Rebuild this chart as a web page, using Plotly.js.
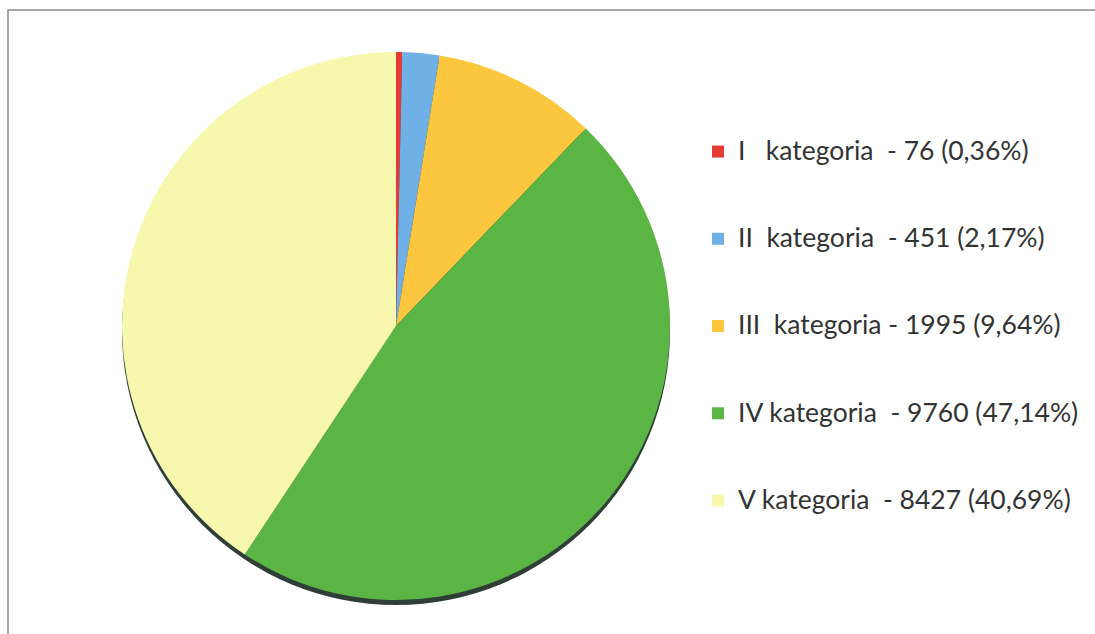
<!DOCTYPE html>
<html>
<head>
<meta charset="utf-8">
<script src="https://cdn.plot.ly/plotly-3.0.1.min.js"></script>
<style>html,body{margin:0;padding:0;background:#fff;}#chart{width:1095px;height:634px;}</style>
</head>
<body>
<div id="chart"></div>
<script>
// Data
const categories = ["I\u00a0\u00a0\u00a0kategoria\u00a0", "II\u00a0\u00a0kategoria\u00a0", "III\u00a0\u00a0kategoria", "IV kategoria\u00a0", "V kategoria\u00a0"];
const counts = [76, 451, 1995, 9760, 8427];
const percentLabels = ["0,36%", "2,17%", "9,64%", "47,14%", "40,69%"];
const sliceColors = ["#e53a35", "#6fb1e6", "#fcc73e", "#5ab544", "#f7f7ad"];

const total = counts.reduce((a, b) => a + b, 0);
const legendLabels = categories.map((c, i) =>
  "<span style='font-size:26.5px'>" + c + " - " + counts[i] + " (" + percentLabels[i] + ")</span><br> <br> ");

const W = 1095, H = 634;
const cx = 396, cy = 326, r = 274, shadowOffset = 5;
const dom = {
  x: [(cx - r) / W, (cx + r) / W],
  y: [(H - cy - r) / H, (H - cy + r) / H]
};

const shadow = {
  type: "pie",
  values: [total],
  labels: ["shadow"],
  marker: { colors: ["#2f3f37"], line: { width: 0 } },
  textinfo: "none",
  hoverinfo: "skip",
  showlegend: false,
  sort: false,
  domain: { x: dom.x, y: [dom.y[0] - shadowOffset / H, dom.y[1] - shadowOffset / H] }
};

const pie = {
  type: "pie",
  values: counts,
  labels: legendLabels,
  marker: { colors: sliceColors, line: { width: 0 } },
  textinfo: "none",
  hoverinfo: "label+value",
  sort: false,
  direction: "clockwise",
  rotation: 0,
  domain: dom
};

const layout = {
  width: W,
  height: H,
  margin: { l: 0, r: 0, t: 0, b: 0, autoexpand: false },
  paper_bgcolor: "#ffffff",
  font: { family: "Lato, 'Open Sans', sans-serif", color: "#333333" },
  showlegend: true,
  legend: {
    x: 698 / W, xanchor: "left",
    y: (H - 131) / H, yanchor: "top",
    valign: "top",
    font: { size: 21.6, color: "#333333", family: "Lato, sans-serif" },
    bgcolor: "rgba(0,0,0,0)",
    traceorder: "normal"
  },
  shapes: [{
    type: "rect", xref: "paper", yref: "paper",
    x0: 8 / W, x1: 1.05, y0: -0.05, y1: (H - 10) / H,
    line: { color: "#8a8a8a", width: 1.5 },
    fillcolor: "rgba(0,0,0,0)",
    layer: "below"
  }]
};

Plotly.newPlot("chart", [shadow, pie], layout, { displayModeBar: false, staticPlot: true });
</script>
</body>
</html>
